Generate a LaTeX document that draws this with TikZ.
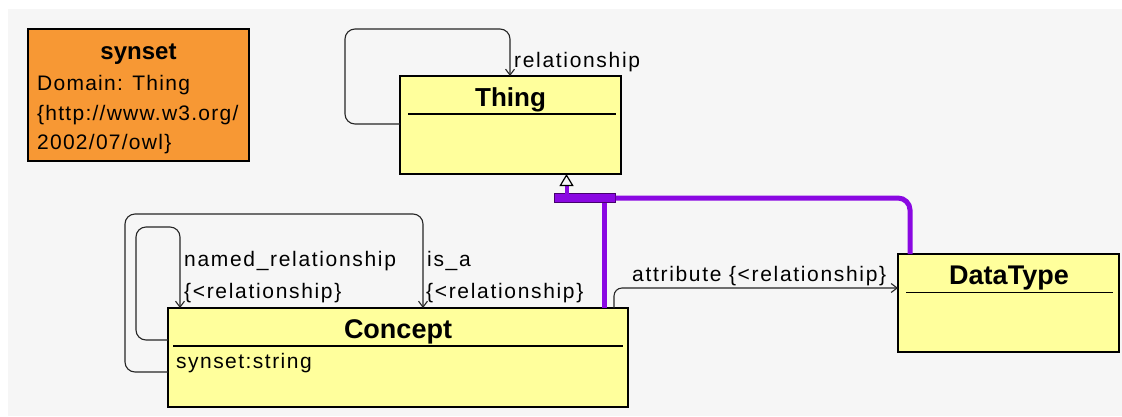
\documentclass[tikz,border=0pt]{standalone}
\usepackage{fontspec}
\setmainfont{Liberation Sans}
\newfontfamily\labfont[LetterSpace=8]{Liberation Sans}
\newfontfamily\boxfont[LetterSpace=6]{Liberation Sans}
\newfontfamily\attrfont[LetterSpace=7]{Liberation Sans}
\usetikzlibrary{arrows.meta,calc}
\definecolor{umlyellow}{RGB}{255,255,156}
\definecolor{synorange}{RGB}{247,152,52}
\definecolor{genpurple}{RGB}{138,8,226}
\definecolor{bardark}{RGB}{70,0,110}
\definecolor{bggray}{RGB}{246,246,246}
\tikzset{
  box/.style={draw=black, line width=1.3pt, fill=umlyellow, inner sep=0pt, outer sep=0pt, anchor=north west},
  lab/.style={font={\labfont\fontsize{21}{24}\selectfont}, inner sep=0pt, anchor=base west, text=black},
  attr/.style={font={\boxfont\fontsize{21}{24}\selectfont}, inner sep=0pt, anchor=base west, text=black},
  ttl/.style={font={\bfseries\fontsize{26}{30}\selectfont}, inner sep=0pt, anchor=base, text=black},
  selfloop/.style={draw=black!85, line width=1.1pt, rounded corners=10pt, -{Straight Barb[length=6pt,width=9pt]}},
  gen/.style={draw=genpurple, line width=5pt},
  sepline/.style={draw=black, line width=1.1pt},
}
\begin{document}
\begin{tikzpicture}[x=1pt,y=-1pt]
\useasboundingbox (0,0) rectangle (1122,416);
\fill[white] (0,0) rectangle (1122,416);
\fill[bggray] (8,9) rectangle (1122,416);

% synset note
\node[box, fill=synorange, minimum width=221pt, minimum height=132pt] (syn) at (28,29) {};
\node[font={\bfseries\fontsize{24}{28}\selectfont}, inner sep=0pt, anchor=base] (synt) at (138.5,59) {synset};
\node[attr] (syn1) at (37,90.5) {Domain: Thing};
\node[attr] (syn2) at (37,120.5) {\{http://www.w3.org/};
\node[attr] (syn3) at (37,149.5) {2002/07/owl\}};

% classes
\node[box, minimum width=221pt, minimum height=98pt] (Thing) at (400,76) {};
\node[ttl] (tThing) at (510.5,106.5) {Thing};
\draw[sepline] ($(Thing.north west)+(8,38)$) -- ($(Thing.north east)+(-5,38)$);

\node[box, minimum width=460pt, minimum height=99pt] (Concept) at (168,308) {};
\node[ttl, font={\bfseries\fontsize{27}{30}\selectfont}] (tConcept) at (398,338) {Concept};
\draw[sepline] ($(Concept.north west)+(5,38)$) -- ($(Concept.north east)+(-5,38)$);
\node[attr, font={\attrfont\fontsize{21}{24}\selectfont}] (aConcept) at (176,368) {synset:string};

\node[box, minimum width=221pt, minimum height=98pt] (DataType) at (898,254) {};
\node[ttl, font={\bfseries\fontsize{27}{30}\selectfont}] (tDataType) at (1009,284) {DataType};
\draw[sepline] ($(DataType.north west)+(8,38.5)$) -- ($(DataType.north east)+(-6,38.5)$);

% self loops
\draw[selfloop] (Thing.west |- 0,124) -- (345,124) -- (345,29) -- (510,29) -- (Thing.north -| 510,0);
\node[lab] (lThing) at (514,67) {relationship};

\draw[selfloop] (Concept.west |- 0,372) -- (125,372) -- (125,214) -- (423,214) -- (Concept.north -| 423,0);
\draw[selfloop] (Concept.west |- 0,340) -- (136,340) -- (136,227) -- (180,227) -- (Concept.north -| 180,0);
\node[lab] (lNamed) at (184,266) {named\_relationship};
\node[lab] (lNamed2) at (184,298) {\{<relationship\}};
\node[lab] (lIsa) at (427,266) {is\_a};
\node[lab] (lIsa2) at (426,298) {\{<relationship\}};

% attribute
\draw[selfloop, rounded corners=8pt] (Concept.north -| 614,0) -- (614,288) -- (DataType.west |- 0,288);
\node[lab] (lAttr) at (632,281) {attribute \{<relationship\}};

% generalization
\node[draw=bardark, line width=1.2pt, fill=genpurple, minimum width=61pt, minimum height=9pt, inner sep=0pt, outer sep=0pt] (bar) at (585,198) {};
\draw[gen] (bar.south -| 604,0) -- (Concept.north -| 604,0);
\draw[gen, rounded corners=12pt] (bar.east) -- (910,198) -- (DataType.north -| 910,0);
\draw[genpurple, line width=4pt, -{Triangle[open, length=12pt, width=14pt, line width=1.2pt, color=black]}] (bar.north -| 566.5,0) -- (Thing.south -| 566.5,0);
\end{tikzpicture}
\end{document}
